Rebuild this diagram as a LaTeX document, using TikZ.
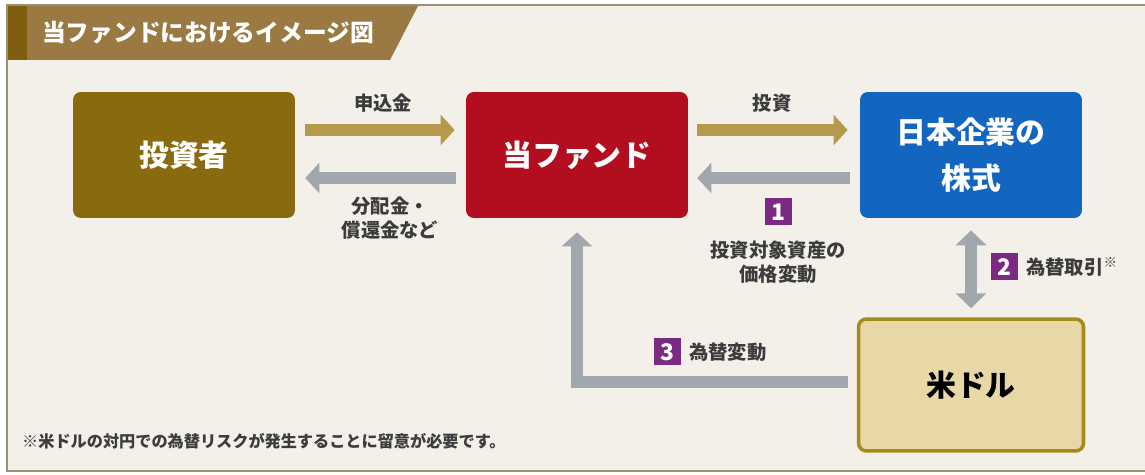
\documentclass[tikz,border=0pt]{standalone}
\usepackage{fontspec}
\setmainfont{Noto Sans CJK JP}
\usetikzlibrary{arrows.meta,positioning}

\definecolor{bgcream}{HTML}{F2F0E8}
\definecolor{framebrown}{HTML}{9C8F77}
\definecolor{headbrown}{HTML}{9A7A42}
\definecolor{headdark}{HTML}{7E5E0E}
\definecolor{investbrown}{HTML}{8A6A0E}
\definecolor{fundred}{HTML}{B20E1F}
\definecolor{stockblue}{HTML}{1266C0}
\definecolor{usdfill}{HTML}{E8D8A8}
\definecolor{usdline}{HTML}{A38B1C}
\definecolor{goldarr}{HTML}{B59A4E}
\definecolor{grayarr}{HTML}{A2A7AD}
\definecolor{numpurple}{HTML}{7A2A83}
\definecolor{labelgray}{HTML}{3C3C3C}

\tikzset{
	box/.style={rounded corners=4.5pt, minimum width=4.44cm, minimum height=2.52cm, align=center, text=white, font=\bfseries\fontsize{17}{26}\selectfont},
	flow/.style={line width=7.2pt, -{Triangle[width=17pt, length=8pt]}},
	flowboth/.style={line width=7.2pt, {Triangle[width=17pt, length=8.5pt]}-{Triangle[width=17pt, length=8.5pt]}},
	numbox/.style={fill=numpurple, text=white, minimum size=0.54cm, inner sep=0pt, font=\bfseries\fontsize{13}{13}\selectfont},
	lbl/.style={text=labelgray, align=center, font=\bfseries\fontsize{11}{14}\selectfont},
}

\begin{document}
\begin{tikzpicture}[x=0.02cm, y=-0.02cm]
	\useasboundingbox (0, 0) rectangle (1145, 475);
	\fill[white] (0, 0) rectangle (1145, 475);
	\draw[framebrown, line width=1.2pt, fill=bgcream] (7, 5) rectangle (1160, 471);

	% title band
	\fill[headbrown] (8, 6) -- (418, 6) -- (390, 60) -- (8, 60) -- cycle;
	\fill[headdark] (8, 6) rectangle (27, 60);
	\node[anchor=west, text=white, font=\bfseries\fontsize{13.5}{14}\selectfont] (title) at (36, 33) {当ファンドにおけるイメージ図};

	\node[box, fill=investbrown] (inv) at (184, 155) {投資者};
	\node[box, fill=fundred] (fund) at (577, 155) {当ファンド};
	\node[box, fill=stockblue] (stock) at (971, 155) {日本企業の\\株式};
	\node[box, fill=usdfill, draw=usdline, line width=2pt, text=black, minimum width=4.5cm, minimum height=2.64cm] (usd) at (971, 385) {米ドル};

	\draw[flow, goldarr] ([xshift=0.2cm, yshift=0.5cm]inv.east) -- ([xshift=-0.22cm, yshift=0.5cm]fund.west);
	\draw[flow, grayarr] ([xshift=-0.2cm, yshift=-0.46cm]fund.west) -- ([xshift=0.2cm, yshift=-0.46cm]inv.east);
	\draw[flow, goldarr] ([xshift=0.18cm, yshift=0.5cm]fund.east) -- ([xshift=-0.24cm, yshift=0.5cm]stock.west);
	\draw[flow, grayarr] ([xshift=-0.2cm, yshift=-0.46cm]stock.west) -- ([xshift=0.18cm, yshift=-0.46cm]fund.east);
	\draw[flowboth, grayarr] ([yshift=-0.24cm]stock.south) -- ([yshift=0.18cm]usd.north);
	\draw[flow, grayarr, line join=miter] ([xshift=-0.18cm, yshift=0.06cm]usd.west) -| ([yshift=-0.28cm]fund.south);

	\node[lbl] (lblapply) at (383, 103) {申込金};
	\node[lbl] (lbldist) at (390, 218) {分配金・\\償還金など};
	\node[lbl] (lblinvest) at (772, 103) {投資};
	\node[numbox] (n1) at (778, 212) {1};
	\node[lbl] (lblprice) at (778, 262) {投資対象資産の\\価格変動};
	\node[numbox] (n2) at (1004, 267) {2};
	\node[lbl, anchor=west] (lblfx) at (1020, 267) {為替取引\textsuperscript{※}};
	\node[numbox] (n3) at (667, 352) {3};
	\node[lbl, anchor=west] (lblfxchg) at (683, 352) {為替変動};

	\node[anchor=west, text=labelgray, font=\bfseries\fontsize{9.2}{10}\selectfont] (note) at (16, 441) {※米ドルの対円での為替リスクが発生することに留意が必要です。};
\end{tikzpicture}
\end{document}
